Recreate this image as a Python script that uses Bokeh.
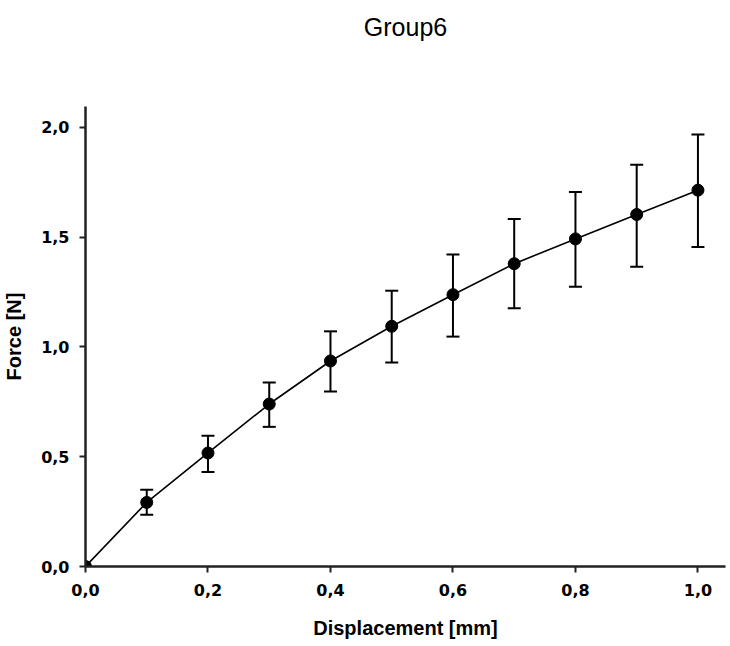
from bokeh.plotting import figure
from bokeh.models import (ColumnDataSource, Whisker, TeeHead, FixedTicker, CustomJSTickFormatter,
                          Range1d, Title)
from bokeh.embed import file_html
from bokeh.resources import INLINE

displacement = [0.0, 0.1, 0.2, 0.3, 0.4, 0.5, 0.6, 0.7, 0.8, 0.9, 1.0]
force = [0.0, 0.292, 0.517, 0.740, 0.936, 1.094, 1.238, 1.379, 1.492, 1.603, 1.714]
force_upper = [0.0, 0.349, 0.595, 0.838, 1.071, 1.256, 1.421, 1.583, 1.706, 1.830, 1.967]
force_lower = [0.0, 0.236, 0.430, 0.636, 0.797, 0.929, 1.047, 1.176, 1.274, 1.365, 1.455]
x_ticks = [0.0, 0.2, 0.4, 0.6, 0.8, 1.0]
y_ticks = [0.0, 0.5, 1.0, 1.5, 2.0]

p = figure(width=730, height=646, output_backend="svg", toolbar_location=None,
           x_range=Range1d(0, 1.045), y_range=Range1d(0, 2.095),
           min_border_left=84, min_border_right=5, min_border_top=105, min_border_bottom=80)
p.outline_line_color = None
p.grid.visible = False
p.background_fill_color = "white"
p.border_fill_color = "white"

# spacer between the frame and the title
p.add_layout(Title(text=" ", text_font_size="10px", standoff=43), "above")

p.title.text = "Group6"
p.title.align = "center"
p.title.text_font = "Liberation Sans"
p.title.text_font_size = "25px"
p.title.text_font_style = "normal"
p.title.text_color = "black"
p.title.standoff = 20

src = ColumnDataSource(dict(x=displacement, y=force))
err = ColumnDataSource(dict(x=displacement[1:], upper=force_upper[1:], lower=force_lower[1:]))

p.line("x", "y", source=src, line_color="black", line_width=1.6)
w = Whisker(base="x", upper="upper", lower="lower", source=err, line_color="black", line_width=2,
            upper_head=TeeHead(size=13, line_color="black", line_width=2),
            lower_head=TeeHead(size=13, line_color="black", line_width=2))
p.add_layout(w)
p.scatter("x", "y", source=src, size=12, fill_color="black", line_color="black")

fmt = CustomJSTickFormatter(code="return tick.toFixed(1).replace('.', ',');")
for ax, ticks in ((p.xaxis[0], x_ticks), (p.yaxis[0], y_ticks)):
    ax.ticker = FixedTicker(ticks=ticks)
    ax.formatter = fmt
    ax.axis_line_width = 2.5
    ax.axis_line_color = "#222222"
    ax.major_tick_line_width = 2
    ax.major_tick_line_color = "#222222"
    ax.major_tick_out = 6
    ax.major_tick_in = 0
    ax.minor_tick_line_color = None
    ax.major_label_text_font = "DejaVu Sans"
    ax.major_label_text_font_style = "bold"
    ax.major_label_text_font_size = "16px"
    ax.major_label_text_color = "black"
    ax.axis_label_text_font = "Liberation Sans"
    ax.axis_label_text_font_style = "bold"
    ax.axis_label_text_font_size = "20px"
    ax.axis_label_text_color = "black"

p.xaxis.major_label_standoff = 11
p.xaxis.axis_label_standoff = 18
p.yaxis.major_label_standoff = 10
p.yaxis.axis_label_standoff = 13
p.xaxis.axis_label = "Displacement [mm]"
p.yaxis.axis_label = "Force [N]"

open("out.html", "w").write(file_html(p, INLINE))
